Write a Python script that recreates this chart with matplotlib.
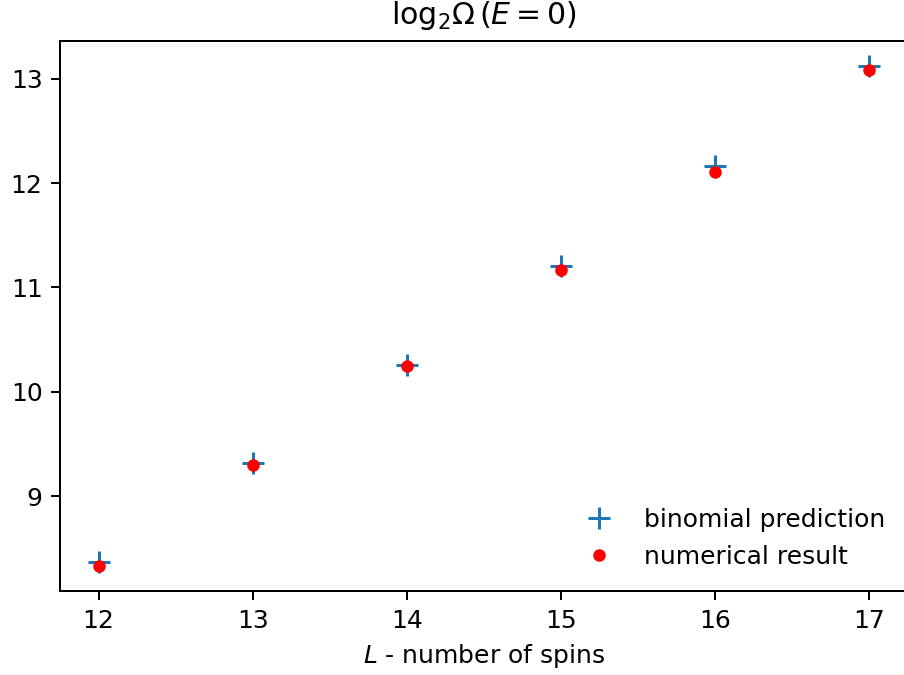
import matplotlib
matplotlib.use("Agg")
import matplotlib.pyplot as plt

L = [12, 13, 14, 15, 16, 17]
binomial = [8.367, 9.315, 10.258, 11.206, 12.163, 13.125]
numerical = [8.330, 9.300, 10.247, 11.172, 12.104, 13.090]

DPI = 180
fig = plt.figure(figsize=(904/DPI, 675/DPI), dpi=DPI)
ax = fig.add_axes([60/904, 1 - 591/675, (908 - 60)/904, (591 - 41)/675])
ax.plot(L, binomial, '+', color='#1f77b4', ms=9.2, mew=1.2, label='binomial prediction')
ax.plot(L, numerical, 'o', color='red', ms=4, label='numerical result')
ax.set_xlim(11.75, 17.25)
ax.set_ylim(8.089, 13.364)
ax.set_title(r'$\mathrm{log}_2\Omega\,(E=0)$', pad=7)
ax.set_xlabel(r'$L$ - number of spins')
ax.legend(loc='lower right', frameon=False)
fig.savefig('out.png', dpi=DPI)
